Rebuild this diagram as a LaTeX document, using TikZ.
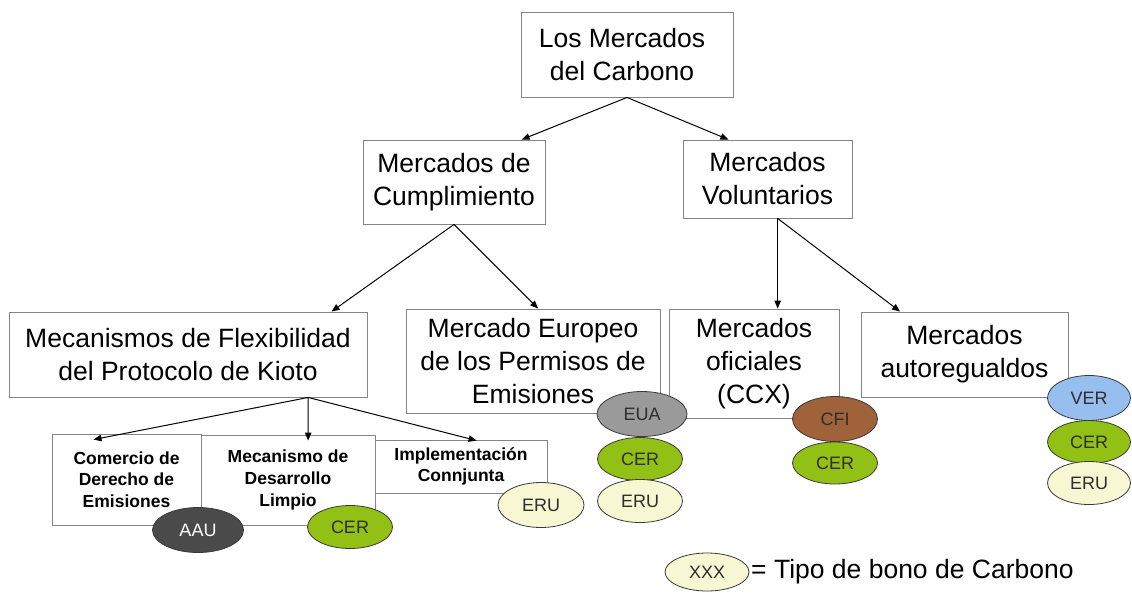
\documentclass[tikz,border=0pt]{standalone}
\usepackage{fontspec}
\setmainfont{Liberation Sans}
\usetikzlibrary{shapes.geometric,arrows.meta,calc}
\definecolor{boxline}{HTML}{858585}
\definecolor{ellline}{HTML}{3A3A3A}
\definecolor{ceroc}{HTML}{92C015}
\definecolor{eruc}{HTML}{F7F7D4}
\definecolor{euac}{HTML}{9A9A9A}
\definecolor{aauc}{HTML}{4A4A4A}
\definecolor{cfic}{HTML}{A0623A}
\definecolor{verc}{HTML}{96BEEE}
\definecolor{etext}{HTML}{2E2E2E}
\begin{document}
\begin{tikzpicture}[x=1pt,y=-1pt,
  box/.style={draw=boxline,line width=0.9pt,fill=white,align=center,inner sep=0pt,
    font=\fontsize{26.5}{33}\selectfont},
  smallbox/.style={draw=boxline,line width=0.9pt,fill=white,align=center,inner sep=0pt,
    font=\fontsize{17.5}{21.7}\selectfont\bfseries},
  bono/.style={ellipse,draw=ellline,line width=0.8pt,inner sep=0pt,text=etext,
    font=\fontsize{18}{20}\selectfont},
  cer/.style={bono,fill=ceroc},
  eru/.style={bono,fill=eruc},
  arr/.style={draw=black,line width=1pt,-{Triangle[length=8pt,width=6.5pt]}}]
\fill[white] (0,0) rectangle (1132,592);
\useasboundingbox (0,0) rectangle (1132,592);

% main boxes
\node[box,minimum width=212pt,minimum height=85pt] (top) at (627,54.5) {\hspace*{-10pt}Los Mercados\\\hspace*{-10pt}del Carbono};
\node[box,minimum width=182pt,minimum height=84pt] (cump) at (454,182) {Mercados de\\Cumplimiento};
\node[box,minimum width=169pt,minimum height=78pt] (vol) at (767.5,179) {Mercados\\Voluntarios};
\node[box,minimum width=358pt,minimum height=85pt] (flex) at (188,354.5) {Mecanismos de Flexibilidad\\del Protocolo de Kioto};
\node[box,minimum width=254pt,minimum height=104pt] (eur) at (533,361) {Mercado Europeo\\de los Permisos de\\Emisiones};
\node[box,minimum width=170pt,minimum height=109pt] (ofi) at (754,363.5) {Mercados\\oficiales\\(CCX)};
\node[box,minimum width=207pt,minimum height=85pt] (auto) at (964.5,354.5) {Mercados\\autoregualdos};

% small boxes
\node[smallbox,minimum width=149pt,minimum height=91pt] (com) at (126.5,479.5) {Comercio de\\Derecho de\\Emisiones};
\node[smallbox,minimum width=174pt,minimum height=90pt] (mdl) at (288,480) {Mecanismo de\\Desarrollo\\Limpio};
\node[smallbox,minimum width=172pt,minimum height=53pt] (imp) at (461,466.5) {Implementación\\Connjunta};

% connectors
\draw[arr] (top.south) -- ($(cump.north west)!0.87!(cump.north east)$);
\draw[arr] (top.south) -- ($(vol.north west)!0.27!(vol.north east)$);
\draw[arr] (cump.south) -- ($(flex.north west)!0.90!(flex.north east)$);
\draw[arr] (cump.south) -- ($(eur.north west)!0.52!(eur.north east)$);
\coordinate (volsrc) at ($(vol.south west)!0.56!(vol.south east)$);
\draw[arr] (volsrc) -- (volsrc |- ofi.north);
\draw[arr] (volsrc) -- ($(auto.north west)!0.19!(auto.north east)$);
\coordinate (flexsrc) at ($(flex.south west)!0.835!(flex.south east)$);
\draw[arr] (flexsrc) -- ($(com.north west)!0.28!(com.north east)+(0,6)$);
\draw[arr] (flexsrc) -- ($(mdl.north west)!0.615!(mdl.north east)+(0,6)$);
\draw[arr] (flexsrc) -- ($(imp.north west)!0.59!(imp.north east)+(0,1)$);

% bonos
\node[bono,fill=aauc,text=white,minimum width=91pt,minimum height=45pt] (aau) at (198,530) {AAU};
\node[cer,minimum width=85pt,minimum height=43pt] (cer1) at (350,527) {CER};
\node[eru,minimum width=86pt,minimum height=45pt] (eru1) at (541,505) {ERU};
\node[bono,fill=euac,minimum width=90pt,minimum height=45pt] (eua) at (642,414) {EUA};
\node[cer,minimum width=85pt,minimum height=43pt] (cer2) at (640,459) {CER};
\node[eru,minimum width=85pt,minimum height=43pt] (eru2) at (640,501) {ERU};
\node[bono,fill=cfic,minimum width=85pt,minimum height=45pt] (cfi) at (835,419) {CFI};
\node[cer,minimum width=85pt,minimum height=42pt] (cer3) at (835,463) {CER};
\node[bono,fill=verc,minimum width=83pt,minimum height=45pt] (ver) at (1089,398) {VER};
\node[cer,minimum width=83pt,minimum height=43pt] (cer4) at (1089,442) {CER};
\node[eru,minimum width=83pt,minimum height=43pt] (eru3) at (1089,483) {ERU};

% legend
\node[eru,minimum width=84pt,minimum height=38pt] (leg) at (707,572) {XXX};
\node[anchor=west,inner sep=0pt,font=\fontsize{26.5}{30}\selectfont] (legtxt) at (751,572) {= Tipo de bono de Carbono};
\end{tikzpicture}
\end{document}
